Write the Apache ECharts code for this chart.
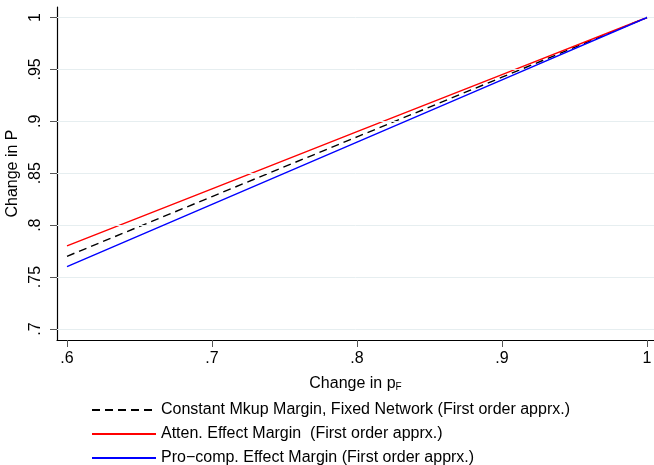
<!DOCTYPE html>
<html>
<head>
<meta charset="utf-8">
<script src="https://cdn.jsdelivr.net/npm/echarts@6/dist/echarts.min.js"></script>
<style>
  html, body { margin: 0; padding: 0; background: #fff; }
  #chart { width: 654px; height: 465px; }
</style>
</head>
<body>
<div id="chart"></div>
<script>
// Data
const xValues = [0.6, 0.7, 0.8, 0.9, 1.0];
const constantMkup = [0.77, 0.8275, 0.885, 0.9425, 1.0];
const attenEffect = [0.78, 0.835, 0.89, 0.945, 1.0];
const procompEffect = [0.76, 0.82, 0.88, 0.94, 1.0];
const xTicks = [0.6, 0.7, 0.8, 0.9, 1.0];
const yTicks = [0.7, 0.75, 0.8, 0.85, 0.9, 0.95, 1.0];

const seriesNames = [
  "Constant Mkup Margin, Fixed Network (First order apprx.)",
  "Atten. Effect Margin  (First order apprx.)",
  "Pro\u2212comp. Effect Margin (First order apprx.)",
];

const FONT = "Liberation Sans, Arial, Helvetica, sans-serif";

// strip leading zero like Stata does: 0.75 -> .75, 1 -> 1
function fmt(v) {
  const s = String(+v.toFixed(2));
  return s.startsWith("0.") ? s.slice(1) : s;
}

const pairs = (ys) => xValues.map((x, i) => [x, ys[i]]);

const chart = echarts.init(document.getElementById("chart"));

chart.setOption({
  animation: false,
  backgroundColor: "#fff",
  grid: { left: 57, right: 0, top: 7, height: 333, outerBoundsMode: "none", containLabel: false },
  xAxis: {
    type: "value",
    min: 0.5931,
    max: 1.0048,
    name: "Change in p{sub|F}",
    nameLocation: "middle",
    nameGap: 35,
    nameTextStyle: {
      fontFamily: FONT, fontSize: 16, color: "#000",
      rich: { sub: { fontFamily: FONT, fontSize: 10, color: "#000", verticalAlign: "bottom", padding: [7, 0, 0, 0] } },
    },
    axisLine: { lineStyle: { color: "#000", width: 1.2 } },
    axisTick: { customValues: xTicks, length: 7, lineStyle: { color: "#555" } },
    axisLabel: { customValues: xTicks, formatter: fmt, fontFamily: FONT, fontSize: 16, color: "#000", margin: 11 },
    splitLine: { show: false },
  },
  yAxis: {
    type: "value",
    min: 0.6894,
    max: 1.0101,
    name: "Change in P",
    nameLocation: "middle",
    nameGap: 30,
    nameRotate: 90,
    nameTextStyle: { fontFamily: FONT, fontSize: 16, color: "#000" },
    axisLine: { show: true, lineStyle: { color: "#000", width: 1.2 } },
    axisTick: { show: true, customValues: yTicks, length: 7, lineStyle: { color: "#555" } },
    axisLabel: { customValues: yTicks, formatter: fmt, rotate: 90, fontFamily: FONT, fontSize: 16, color: "#000", margin: 13 },
    splitLine: { show: false },
  },
  legend: {
    orient: "vertical",
    left: 86,
    top: 397,
    height: 120,
    itemWidth: 64,
    itemHeight: 12,
    itemGap: 8,
    itemStyle: { opacity: 0 },
    textStyle: { fontFamily: FONT, fontSize: 16, color: "#000" },
    data: seriesNames,
  },
  series: [
    {
      name: "grid",
      type: "line",
      data: [],
      silent: true,
      markLine: {
        symbol: "none",
        silent: true,
        label: { show: false },
        lineStyle: { color: "#e6eef0", type: "solid", width: 1 },
        data: yTicks.map((v) => ({ yAxis: v })),
      },
    },
    {
      name: seriesNames[0],
      type: "line",
      data: pairs(constantMkup),
      symbol: "none",
      z: 3,
      lineStyle: { color: "#000", width: 1.4, type: [8, 5] },
      itemStyle: { color: "#000" },
    },
    {
      name: seriesNames[1],
      type: "line",
      data: pairs(attenEffect),
      symbol: "none",
      z: 4,
      lineStyle: { color: "#ff0000", width: 1.4 },
      itemStyle: { color: "#ff0000" },
    },
    {
      name: seriesNames[2],
      type: "line",
      data: pairs(procompEffect),
      symbol: "none",
      z: 5,
      lineStyle: { color: "#0000ff", width: 1.4 },
      itemStyle: { color: "#0000ff" },
    },
  ],
});
</script>
</body>
</html>
